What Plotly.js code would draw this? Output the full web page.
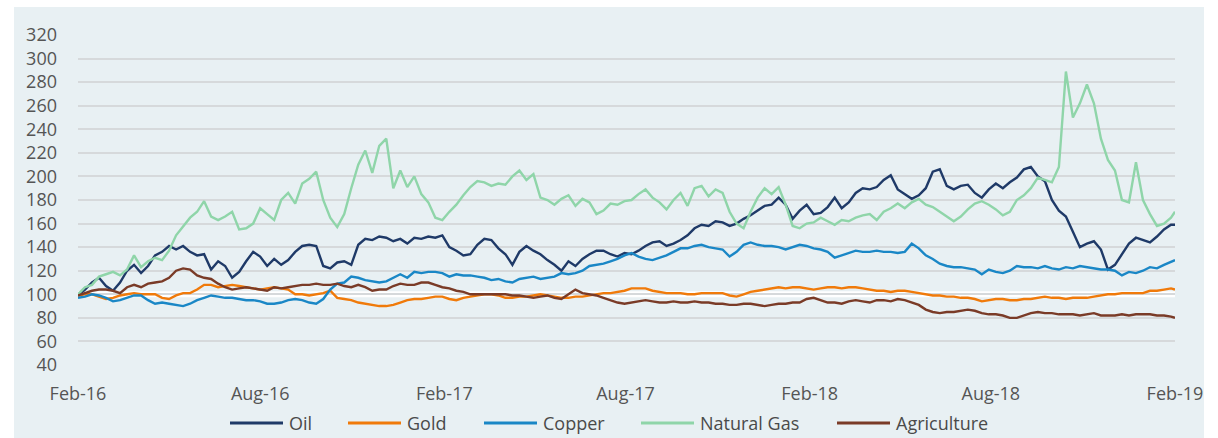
<!DOCTYPE html>
<html>
<head>
<meta charset="utf-8">
<script src="https://cdn.plot.ly/plotly-3.0.1.min.js"></script>
<style>
  html, body { margin: 0; padding: 0; background: #ffffff; width: 1218px; height: 438px; overflow: hidden; }
  #panel { position: absolute; left: 14px; top: 7px; width: 1190px; height: 431px; background: #e8f0f3; }
  #chart { width: 1190px; height: 431px; }
</style>
</head>
<body>
<div id="panel"><div id="chart"></div></div>
<script>
// Weekly observations starting 1 Feb 2016, plus a final point on 1 Feb 2019
const startDate = '2016-02-01';
const endDate = '2019-02-01';

const seriesNames = ['Oil', 'Gold', 'Copper', 'Natural Gas', 'Agriculture'];
const seriesColors = ['#1f3a68', '#f07a0a', '#1a87c6', '#8fd5a9', '#7a3b27'];

const oil = [
  99,104,110,114,107,103,110,120,125,118,124,133,136,141,138,141,136,133,134,121,
  128,124,114,119,128,136,132,124,130,125,129,136,141,142,141,124,122,127,128,125,
  142,147,146,149,148,145,147,143,148,147,149,148,150,140,137,133,134,142,147,146,
  139,134,125,136,141,137,134,129,125,120,128,124,130,134,137,137,134,132,135,134,
  137,141,144,145,141,143,146,150,156,159,158,162,161,158,160,164,167,171,175,176,
  182,176,164,171,176,168,169,174,182,173,178,186,190,189,191,197,201,189,185,181,
  184,190,204,206,192,189,192,193,186,182,189,194,190,195,199,206,208,200,196,180,
  171,166,153,140,143,145,138,121,125,134,143,148,146,144,149,155,159,159
];

const gold = [
  99,100,100,98,96,97,99,100,101,100,100,100,97,96,99,101,101,104,108,108,
  106,107,108,107,106,105,104,105,106,105,104,100,100,99,100,101,103,97,96,95,
  93,92,91,90,90,91,93,95,96,96,97,98,98,96,95,97,98,99,100,100,
  99,97,97,98,98,99,100,99,98,97,97,98,98,99,100,101,101,102,103,105,
  105,105,103,102,101,101,101,100,100,101,101,101,101,99,98,100,102,103,104,105,
  106,105,106,106,105,104,105,106,106,105,106,106,105,104,103,103,102,103,103,102,
  101,100,99,99,98,98,97,97,96,94,95,96,96,95,95,96,96,97,98,97,
  97,96,97,97,97,98,99,100,100,101,101,101,101,103,103,104,105,104
];

const copper = [
  97,98,100,99,97,94,95,97,99,99,95,92,93,92,91,90,92,95,97,99,
  98,97,97,96,95,95,94,92,92,93,95,96,95,93,92,96,104,109,110,115,
  114,112,111,110,111,114,117,114,119,118,119,119,118,115,117,116,116,115,114,112,
  113,111,110,113,114,115,113,114,115,118,117,118,120,124,125,126,128,130,133,135,
  132,130,129,131,133,136,139,139,141,142,140,139,138,132,136,142,144,142,141,141,
  140,138,140,142,141,139,138,136,131,133,135,137,136,136,137,136,136,135,136,143,
  139,133,130,126,124,123,123,122,121,117,121,119,118,120,124,123,123,122,124,122,
  121,123,122,124,123,122,121,121,120,116,119,118,120,123,122,125,128,129
];

const naturalGas = [
  100,106,108,115,117,119,116,121,133,123,128,131,129,137,150,158,165,170,179,166,
  163,166,170,155,156,160,173,168,163,180,186,177,194,198,204,180,165,157,168,190,
  210,222,203,226,232,190,205,191,200,185,178,165,163,170,176,184,191,196,195,192,
  194,193,200,205,197,202,182,180,176,181,184,175,181,178,168,171,177,176,179,180,
  185,189,182,178,172,180,186,175,190,192,183,189,186,170,160,156,170,182,190,185,
  191,176,158,156,160,161,165,162,159,163,162,165,167,168,163,170,173,177,173,178,
  181,176,174,170,166,162,166,172,177,179,176,172,167,170,180,184,190,199,197,195,
  208,289,250,262,278,262,232,214,205,180,178,212,180,168,158,160,165,170
];

const agriculture = [
  99,101,103,104,104,103,101,106,108,106,109,110,111,114,120,122,121,116,114,113,
  109,106,104,105,106,105,104,103,106,105,106,107,108,108,109,108,108,109,107,106,
  108,106,103,104,104,107,109,108,108,110,110,108,106,105,103,102,100,100,100,100,
  100,100,99,99,98,97,98,99,97,96,100,104,101,100,99,97,95,93,92,93,
  94,95,94,93,93,94,93,93,94,93,93,92,92,91,91,92,92,91,90,91,
  92,92,93,93,96,97,95,93,93,92,94,95,94,93,95,95,94,96,95,93,
  91,87,85,84,85,85,86,87,86,84,83,83,82,80,80,82,84,85,84,84,
  83,83,83,82,83,84,82,82,82,83,82,83,83,83,82,82,81,80
];

const yTickVals = [40, 60, 80, 100, 120, 140, 160, 180, 200, 220, 240, 260, 280, 300, 320];
const xTickVals = ['2016-02-01', '2016-08-01', '2017-02-01', '2017-08-01', '2018-02-01', '2018-08-01', '2019-02-01'];
const xTickText = ['Feb-16', 'Aug-16', 'Feb-17', 'Aug-17', 'Feb-18', 'Aug-18', 'Feb-19'];

// Build the date axis (weekly steps, then the closing date)
function buildDates(n) {
  const out = [];
  const d0 = new Date(startDate + 'T00:00:00Z');
  for (let i = 0; i < n - 1; i++) {
    const d = new Date(d0.getTime() + i * 7 * 86400000);
    out.push(d.toISOString().slice(0, 10));
  }
  out.push(endDate);
  return out;
}
const dates = buildDates(oil.length);

const allSeries = [oil, gold, copper, naturalGas, agriculture];
const traces = allSeries.map((vals, i) => ({
  type: 'scatter',
  mode: 'lines',
  name: seriesNames[i],
  x: dates,
  y: vals,
  line: { color: seriesColors[i], width: 2.4 },
  showlegend: false,
  hoverinfo: 'skip'
}));

// Custom legend (line samples + text), positioned in paper units
const plotLeftPx = 78, plotWidthPx = 1097, plotBottomPx = 365, plotHeightPx = 330;
const px2x = p => (p - plotLeftPx) / plotWidthPx;
const py2y = p => (plotBottomPx - p) / plotHeightPx;
const legendStarts = [230, 348, 484, 641, 837];
const legendY = 423;
const shapes = [{
  type: 'line', xref: 'paper', yref: 'y', x0: 0, x1: 1, y0: 100, y1: 100,
  line: { color: '#ffffff', width: 6 }, layer: 'below'
}];
const annotations = [];
legendStarts.forEach((s, i) => {
  shapes.push({
    type: 'line', xref: 'paper', yref: 'paper',
    x0: px2x(s), x1: px2x(s + 53), y0: py2y(legendY), y1: py2y(legendY),
    line: { color: seriesColors[i], width: 3 }
  });
  annotations.push({
    xref: 'paper', yref: 'paper', x: px2x(s + 57), y: py2y(legendY),
    xanchor: 'left', yanchor: 'middle', showarrow: false,
    text: seriesNames[i],
    font: { family: 'Open Sans, sans-serif', size: 18, color: '#4a4a4a' }
  });
});

const layout = {
  width: 1190,
  height: 431,
  margin: { l: 64, r: 29, t: 28, b: 73 },
  paper_bgcolor: '#e8f0f3',
  plot_bgcolor: '#e8f0f3',
  font: { family: 'Open Sans, sans-serif', size: 18, color: '#555555' },
  showlegend: false,
  xaxis: {
    type: 'date',
    range: ['2016-02-01', '2019-02-01'],
    tickvals: xTickVals,
    ticktext: xTickText,
    showgrid: false,
    zeroline: false,
    showline: false,
    ticks: '',
    ticklabelstandoff: 16,
    tickfont: { family: 'Open Sans, sans-serif', size: 18, color: '#555555' }
  },
  yaxis: {
    range: [40, 320],
    tickvals: yTickVals,
    showgrid: true,
    gridcolor: '#d6d9db',
    gridwidth: 2,
    zeroline: false,
    showline: false,
    ticks: '',
    ticklabelstandoff: 20,
    tickfont: { family: 'Open Sans, sans-serif', size: 18, color: '#555555' }
  },
  shapes: shapes,
  annotations: annotations
};

Plotly.newPlot('chart', traces, layout, { displayModeBar: false, staticPlot: true });
</script>
</body>
</html>
